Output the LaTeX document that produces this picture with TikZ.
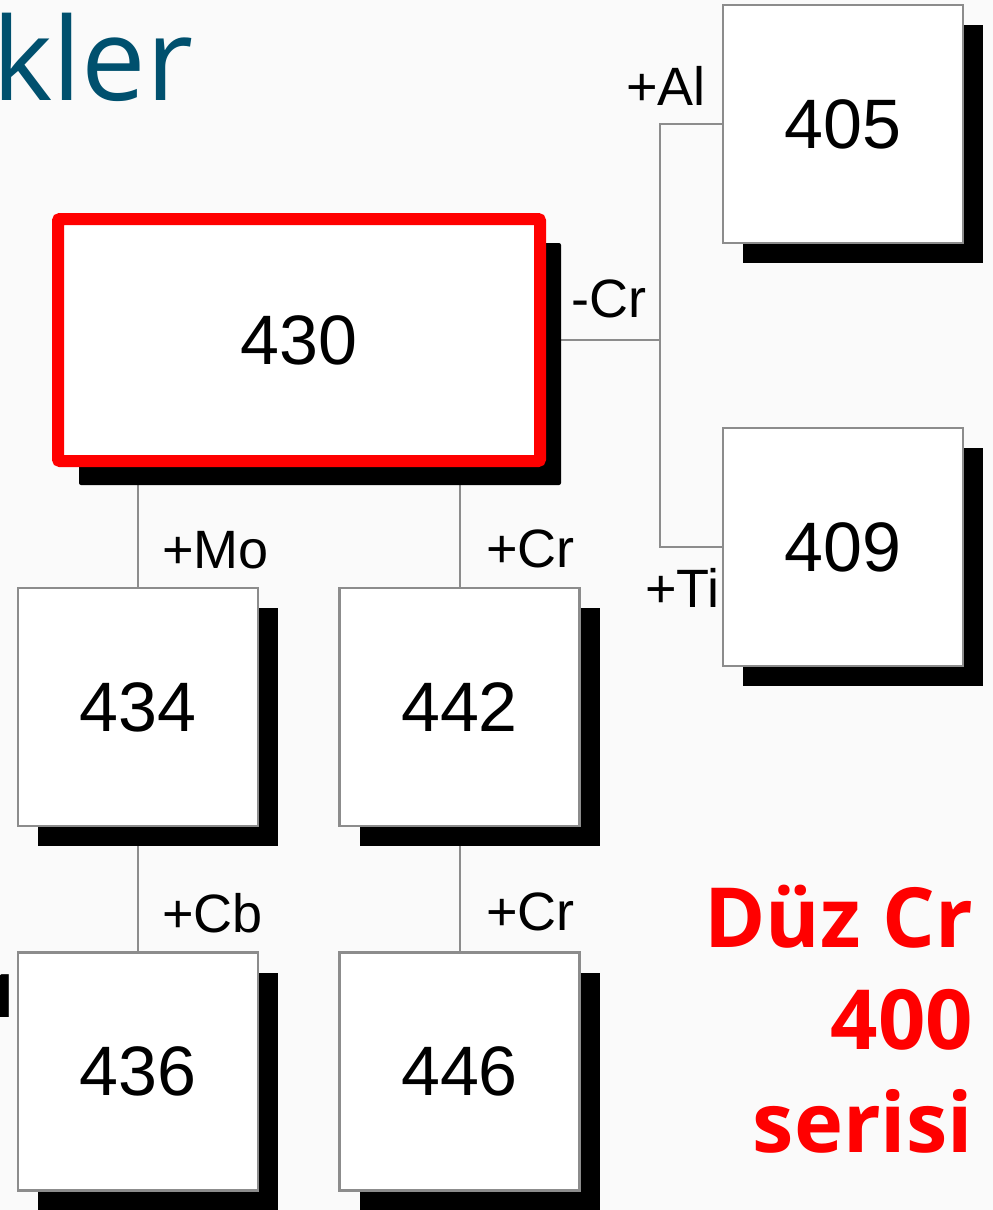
\documentclass[tikz,border=0pt]{standalone}
\usepackage{fontspec}
\setmainfont{Liberation Sans}
\newfontfamily\slidefont{Open Sans}
\usetikzlibrary{positioning, shadows, backgrounds}

\definecolor{slideteal}{RGB}{0,80,110}
\definecolor{slidered}{RGB}{255,0,0}

\begin{document}
\begin{tikzpicture}[
  x=1pt, y=-1pt,
  node distance = 124pt,
  every node/.style = {font=\fontsize{54}{60}\selectfont},
  box/.style = {
    draw=black!45, line width=2.5pt, fill=white, inner sep=0pt,
    minimum width=240pt, minimum height=238pt,
    font=\fontsize{70}{80}\selectfont
  },
  grade/.style = {box,
    drop shadow={shadow xshift=20pt, shadow yshift=-20pt, opacity=1, fill=black}},
  highlight/.style = {box, draw=slidered, line width=12pt, rounded corners=2pt,
    minimum width=482pt, minimum height=242pt,
    drop shadow={shadow xshift=21pt, shadow yshift=-24pt, opacity=1, fill=black}},
  step label/.style = {anchor=base west, inner sep=0pt},
  link/.style = {draw=black!45, line width=2pt},
  heading/.style = {font=\slidefont\fontsize{115}{120}\selectfont,
    text=slideteal, anchor=base west, inner sep=0pt},
  series/.style = {font=\slidefont\bfseries\fontsize{83}{90}\selectfont,
    text=slidered, anchor=base east, inner sep=0pt}
]
\useasboundingbox (0,0) rectangle (993,1210);

\node[heading] (title) at (-8,100) {kler};
\node[anchor=base west, inner sep=0pt, font=\slidefont\bfseries\fontsize{60}{66}\selectfont]
  (frag) at (-16,1017) {1};

% ferritic family tree
\node[highlight] (430) at (299,340) {430};
\node[grade] (405) at (843,124) {405};
\node[grade] (409) at (843,547) {409};
\node[grade] (434) at (138,707) {434};
\node[grade, right=79pt of 434] (442) {442};
\node[grade, below=of 434] (436) {436};
\node[grade, below=of 442] (446) {446};

\coordinate[right=114pt of 430.east] (fork);

\node[step label] (al) at (626,105) {+Al};
\node[step label] (cr1) at (571,317) {-Cr};
\node[step label] (ti) at (645,607) {+Ti};
\node[step label] (mo) at (162,568) {+Mo};
\node[step label] (cr2) at (486,567) {+Cr};
\node[step label] (cb) at (162,932) {+Cb};
\node[step label] (cr3) at (486,930) {+Cr};

\node[series] (duz) at (973,947) {Düz Cr};
\node[series] (num) at (973,1049) {400};
\node[series] (seri) at (973,1152) {serisi};

\begin{scope}[on background layer]
  \fill[black!2] (0,0) rectangle (993,1210);
  \draw[link] (430.east) -- (fork);
  \draw[link] (405.west) -| (fork) |- (409.west);
  \draw[link] (434.north) -- (434.north |- 430.south);
  \draw[link] (442.north) -- (442.north |- 430.south);
  \draw[link] (434.south) -- (436.north);
  \draw[link] (442.south) -- (446.north);
\end{scope}

\end{tikzpicture}
\end{document}
